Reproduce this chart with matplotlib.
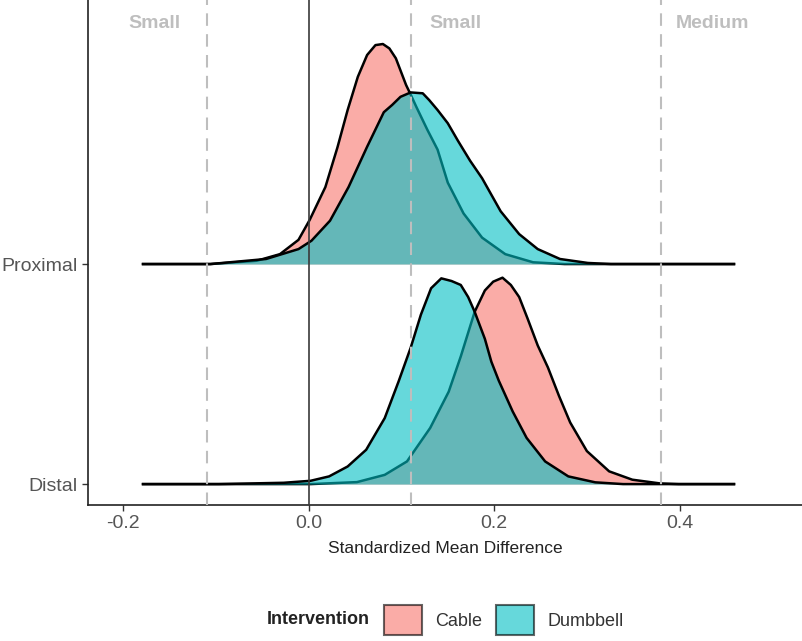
import numpy as np
import matplotlib.pyplot as plt
from matplotlib.patches import Patch

plt.rcParams["font.family"] = ["Liberation Sans", "DejaVu Sans"]

# -----------------------------
# Dados: alturas das densidades em unidades de linha
# -----------------------------
rows = ["Distal", "Proximal"]
row_pos = [1, 2]

prox_cable_x = [-0.18, -0.106, -0.056, -0.031, -0.011, 0.001, 0.018, 0.031, 0.042, 0.053,
                0.063, 0.072, 0.080, 0.087, 0.094, 0.099, 0.105, 0.110, 0.116, 0.128,
                0.139, 0.150, 0.167, 0.187, 0.212, 0.242, 0.276, 0.46]
prox_cable_h = [0.0, 0.0, 0.015, 0.045, 0.11, 0.20, 0.35, 0.53, 0.70, 0.851,
                0.95, 0.995, 1.0, 0.98, 0.935, 0.88, 0.814, 0.77, 0.715, 0.61,
                0.52, 0.37, 0.23, 0.12, 0.045, 0.008, 0.0, 0.0]

prox_dumb_x = [-0.18, -0.106, -0.046, -0.011, 0.003, 0.023, 0.043, 0.063, 0.081, 0.090,
               0.099, 0.110, 0.123, 0.130, 0.139, 0.150, 0.161, 0.174, 0.187, 0.207,
               0.227, 0.247, 0.271, 0.301, 0.326, 0.46]
prox_dumb_h = [0.0, 0.0, 0.023, 0.068, 0.106, 0.197, 0.35, 0.533, 0.69, 0.723,
               0.76, 0.78, 0.776, 0.745, 0.70, 0.64, 0.56, 0.47, 0.39, 0.24,
               0.136, 0.068, 0.023, 0.005, 0.0, 0.0]

dist_dumb_x = [-0.18, -0.097, -0.027, 0.002, 0.022, 0.042, 0.062, 0.082, 0.097, 0.110,
               0.121, 0.132, 0.143, 0.154, 0.164, 0.172, 0.179, 0.190, 0.197, 0.205,
               0.220, 0.235, 0.255, 0.280, 0.309, 0.339, 0.46]
dist_dumb_h = [0.0, 0.0, 0.006, 0.015, 0.035, 0.08, 0.156, 0.30, 0.467, 0.62,
               0.77, 0.89, 0.935, 0.923, 0.905, 0.85, 0.783, 0.66, 0.556, 0.47,
               0.33, 0.21, 0.103, 0.035, 0.008, 0.0, 0.0]

dist_cable_x = [-0.18, 0.002, 0.052, 0.082, 0.106, 0.131, 0.151, 0.164, 0.179, 0.190,
                0.199, 0.209, 0.218, 0.227, 0.236, 0.247, 0.258, 0.270, 0.282, 0.300,
                0.324, 0.349, 0.379, 0.399, 0.46]
dist_cable_h = [0.0, 0.0, 0.009, 0.042, 0.103, 0.255, 0.42, 0.58, 0.783, 0.88,
                0.92, 0.938, 0.905, 0.85, 0.753, 0.63, 0.53, 0.40, 0.28, 0.15,
                0.058, 0.02, 0.003, 0.0, 0.0]

# limiares de tamanho de efeito
thr_x = [-0.11, 0.11, 0.38]
thr_labels = ["Small", "Small", "Medium"]
thr_label_x = [-0.166, 0.158, 0.436]

x_ticks = [-0.2, 0.0, 0.2, 0.4]

cable_color = "#F8766D"
dumb_color = "#00BFC4"

# -----------------------------
# Figura
# -----------------------------
fig = plt.figure(figsize=(8.02, 6.41), dpi=100)
ax = fig.add_axes([88 / 802, 1 - 505 / 641, 1 - 88 / 802, 505 / 641])

curves = [
    (2, prox_cable_x, prox_cable_h, cable_color),
    (2, prox_dumb_x, prox_dumb_h, dumb_color),
    (1, dist_cable_x, dist_cable_h, cable_color),
    (1, dist_dumb_x, dist_dumb_h, dumb_color),
]
for i, (base, cx, ch, col) in enumerate(curves):
    cx = np.array(cx)
    ch = np.array(ch)
    ax.fill_between(cx, base, base + ch, color=col, alpha=0.6, lw=0, zorder=2 + i)
    ax.plot(cx, base + ch, color="black", lw=1.8, zorder=2 + i,
            solid_joinstyle="round", solid_capstyle="butt")

# linhas verticais
for xv in thr_x:
    ax.axvline(xv, color="#BEBEBE", lw=1.5, ls=(0, (6, 4)), zorder=10)
ax.axvline(0, color="#3a3a3a", lw=1.2, zorder=10)

for lx, lab in zip(thr_label_x, thr_labels):
    ax.text(lx, 3.095, lab, color="#BEBEBE", fontsize=14, fontweight="bold",
            ha="center", va="center", zorder=11)

ax.set_xlim(-0.238, 0.532)
ax.set_ylim(0.905, 3.2)
ax.set_yticks(row_pos)
ax.set_yticklabels(rows)
ax.set_xticks(x_ticks)
ax.set_xticklabels([f"{v:.1f}" for v in x_ticks])
ax.tick_params(axis="both", labelsize=14, labelcolor="#555555", color="#333333",
               length=4, width=1)
ax.set_xlabel("Standardized Mean Difference", fontsize=12.5, labelpad=6,
              color="#222222")

for s in ["top", "right"]:
    ax.spines[s].set_visible(False)
for s in ["left", "bottom"]:
    ax.spines[s].set_linewidth(1.2)
    ax.spines[s].set_color("#222222")

# legenda
fig.text(267 / 802, 1 - 620 / 641, "Intervention", fontsize=13, fontweight="bold",
         ha="left", va="center", color="#222222")
handles = [Patch(facecolor=cable_color, alpha=0.6, edgecolor="black", lw=1.5, label="Cable"),
           Patch(facecolor=dumb_color, alpha=0.6, edgecolor="black", lw=1.5, label="Dumbbell")]
leg = fig.legend(handles=handles, ncol=2, loc="center left",
                 bbox_to_anchor=(368 / 802, 1 - 620 / 641), frameon=False,
                 fontsize=13, handlelength=2.1, handleheight=2.1,
                 columnspacing=0.78, handletextpad=0.72)
for t in leg.get_texts():
    t.set_color("#333333")

fig.savefig("out.png", dpi=100)
